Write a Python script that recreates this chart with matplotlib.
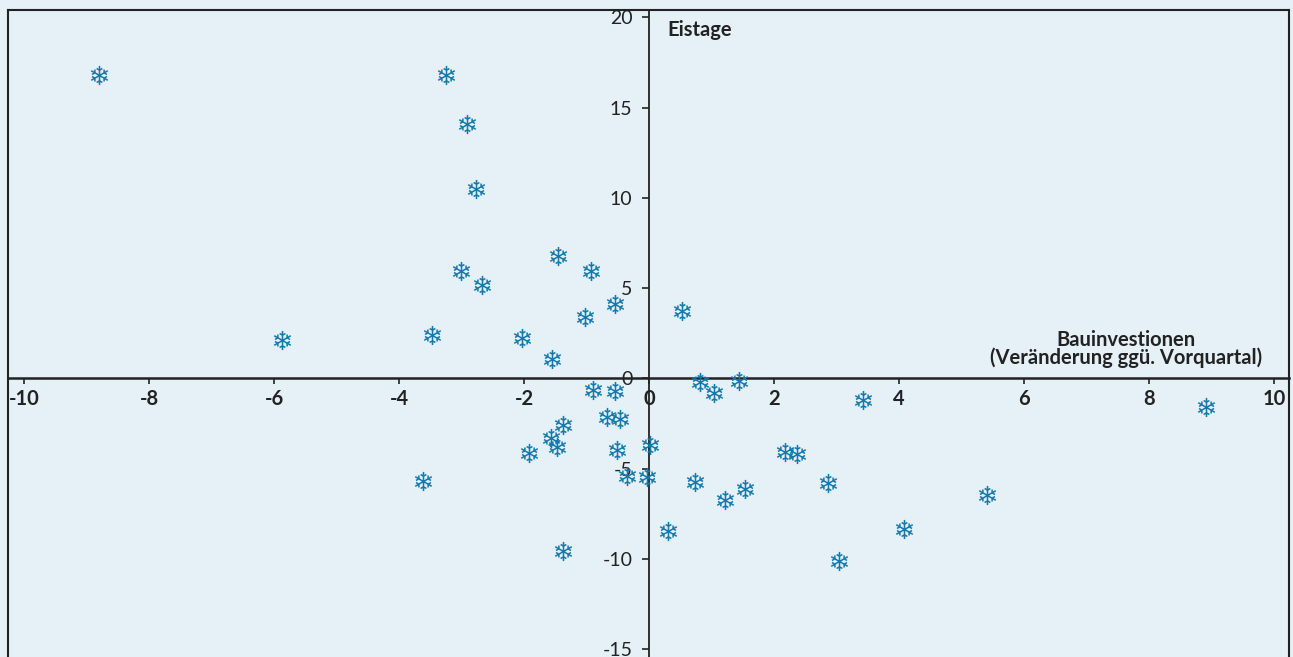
import matplotlib
matplotlib.use("Agg")
import matplotlib.pyplot as plt
from matplotlib.lines import Line2D

# Data (Bauinvestionen change vs. Eistage)
bau = [-8.80, -3.25, -2.91, -2.77, -3.01, -2.68, -1.45, -0.93, -0.55, -1.03,
       0.53, -5.87, -3.47, -2.03, -1.56, -0.89, -0.55, 0.82, 1.04, 1.44,
       3.42, 8.91, -0.67, -0.47, -1.38, -1.57, -1.47, -1.92, -0.51, 0.02,
       2.18, 2.37, -3.62, -0.35, -0.03, 0.73, 1.54, 1.22, 2.87, 5.41,
       0.30, 4.08, -1.38, 3.04]
eis = [16.80, 16.79, 14.07, 10.47, 5.96, 5.19, 6.78, 5.96, 4.12, 3.38,
       3.71, 2.12, 2.38, 2.25, 1.07, -0.65, -0.69, -0.19, -0.83, -0.13,
       -1.20, -1.59, -2.16, -2.25, -2.57, -3.29, -3.82, -4.12, -3.97, -3.70,
       -4.10, -4.21, -5.69, -5.41, -5.45, -5.73, -6.15, -6.73, -5.78, -6.47,
       -8.46, -8.35, -9.57, -10.14]
xticks = [-10, -8, -6, -4, -2, 0, 2, 4, 6, 8, 10]
yticks = [-15, -10, -5, 0, 5, 10, 15, 20]
x_title = "Bauinvestionen\n(Veränderung ggü. Vorquartal)"
y_title = "Eistage"

BG = "#e5f0f7"
MARK = "#1479aa"
DARK = "#222222"

plt.rcParams['font.family'] = ['Lato', 'DejaVu Sans']

W, H = 1293, 657
fig = plt.figure(figsize=(W / 100, H / 100), dpi=100, facecolor=BG)
left, right, top = 7.5, 1289, 9.5
ax = fig.add_axes([left / W, 0, (right - left) / W, 1 - top / H])
ax.set_facecolor(BG)

ax.set_xlim(-10.264, 10.24)
ax.set_ylim(-15.44, 20.43)

ax.scatter(bau, eis, marker='$❄$', s=190, color=MARK, linewidths=0, zorder=3)

# centered axes
for s in ['top', 'right']:
    ax.spines[s].set_visible(False)
ax.spines['left'].set_position(('data', 0))
ax.spines['bottom'].set_position(('data', 0))
ax.spines['left'].set_linewidth(1.3)
ax.spines['bottom'].set_linewidth(1.8)
ax.spines['left'].set_color(DARK)
ax.spines['bottom'].set_color(DARK)

# outer frame (left, top, right)
for xs, ys in [([0, 0], [0, 1]), ([0, 1], [1, 1]), ([1, 1], [1, 0])]:
    ax.add_line(Line2D(xs, ys, transform=ax.transAxes, color=DARK, lw=1.5,
                       clip_on=False, zorder=5))

ax.set_xticks(xticks)
ax.set_xticklabels([str(v) for v in xticks], fontweight='bold', fontsize=14.5,
                   color=DARK)
ax.set_yticks(yticks)
ax.set_yticklabels([str(v) for v in yticks], fontsize=14, color=DARK)
ax.tick_params(axis='x', direction='out', length=4, width=1.2, pad=4, color=DARK)
ax.tick_params(axis='y', direction='out', length=5, width=1.2, pad=7, color=DARK)

ax.text(0.3, 19.3, y_title, fontsize=14.5, fontweight='bold', color=DARK,
        ha='left', va='center')
ax.text(7.63, 0.58, x_title, fontsize=14.5, fontweight='bold', color=DARK,
        ha='center', va='bottom', multialignment='center', linespacing=0.85)

fig.savefig("out.png", dpi=100, facecolor=BG)
